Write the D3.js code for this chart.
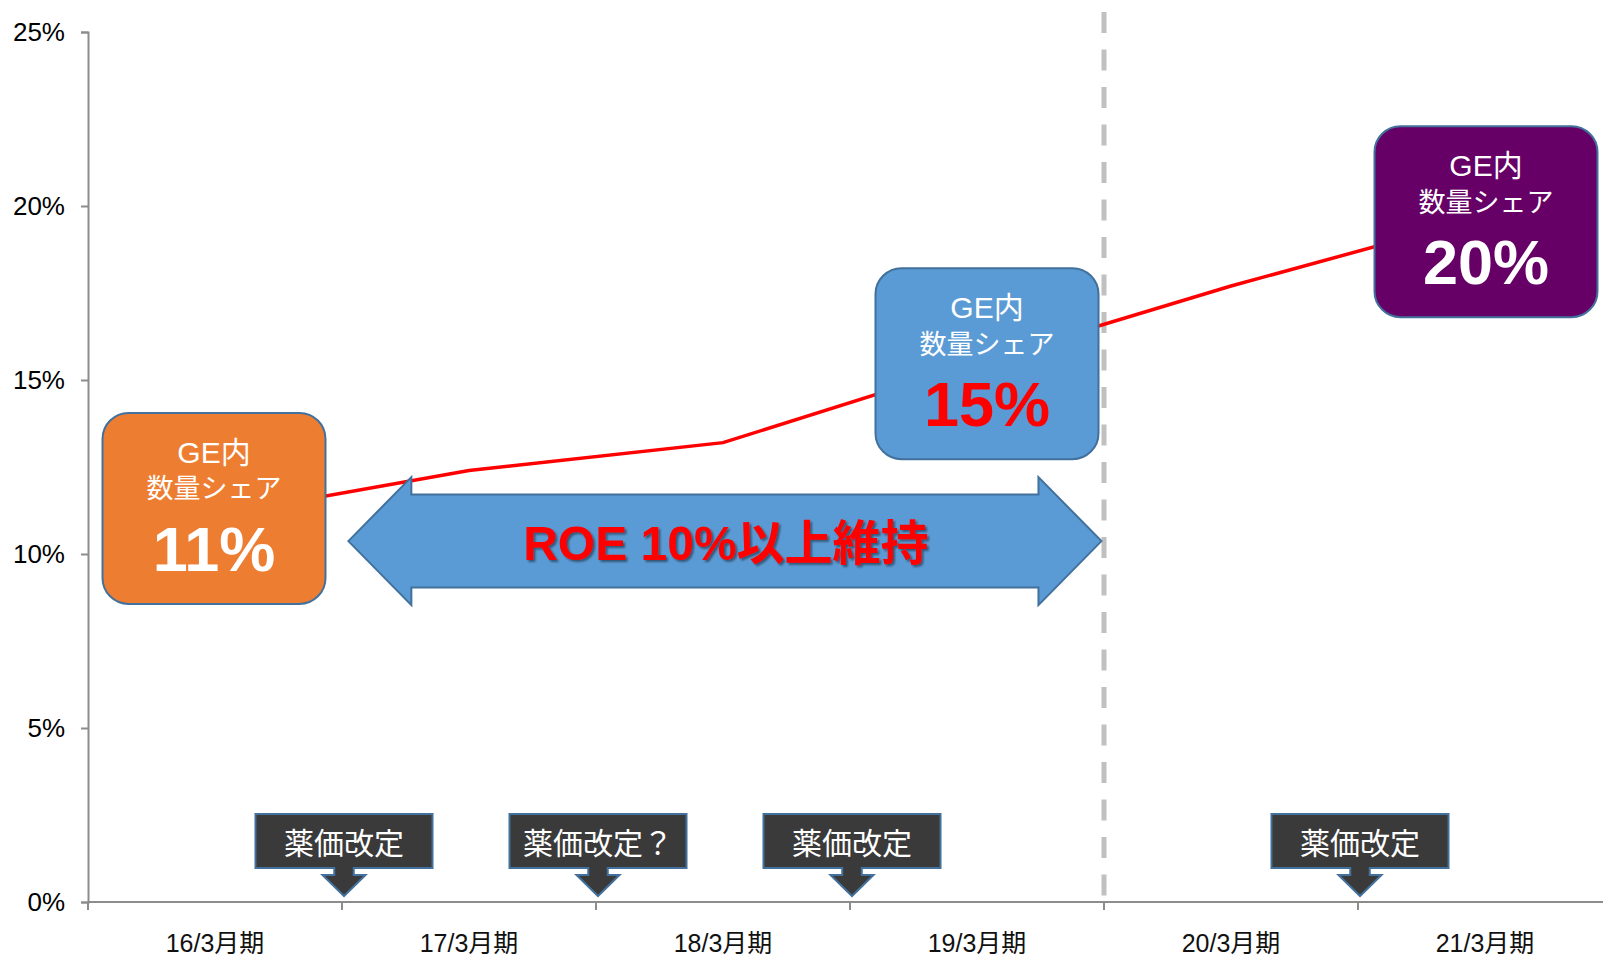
<!DOCTYPE html>
<html>
<head>
<meta charset="utf-8">
<script src="https://cdn.jsdelivr.net/npm/d3@7"></script>
<style>
  body { margin: 0; background: #fff; }
  text { font-family: "Liberation Sans", Arial, "Noto Sans CJK JP", sans-serif; }
</style>
</head>
<body>
<div id="chart"></div>
<script>
// data
const categories = ["16/3月期", "17/3月期", "18/3月期", "19/3月期", "20/3月期", "21/3月期"];
const shareValues = [0.111, 0.124, 0.132, 0.155, 0.177, 0.197];
const yTicks = [0, 0.05, 0.10, 0.15, 0.20, 0.25];

// share boxes
const boxCats = ["16/3月期", "19/3月期", "21/3月期"];
const boxLevels = [0.1131, 0.1547, 0.1955];
const boxLabels = ["11%", "15%", "20%"];
const boxTitle = ["GE内", "数量シェア"];

// price revision callouts (placed at the start of a period)
const revisionCats = ["17/3月期", "18/3月期", "19/3月期", "21/3月期"];
const revisionLabels = ["薬価改定", "薬価改定？", "薬価改定", "薬価改定"];

// ROE arrow: span in period units, level in share
const roeSpan = [1.025, 3.99];
const roeLevel = 0.1037;
const roeText = "ROE 10%以上維持";
const splitCat = "20/3月期";

// styles
const boxFills = ["#ed7d31", "#5b9bd5", "#660066"];
const boxNumColors = ["#ffffff", "#ff0000", "#ffffff"];
const boxDx = [-1, 10, 1];

const W = 1603, H = 956;
const margin = {top: 32, left: 88, bottom: 54};

const svg = d3.select("#chart").append("svg")
    .attr("width", W).attr("height", H);

const defs = svg.append("defs");
const shadow = defs.append("filter").attr("id", "shadow")
    .attr("x", "-10%").attr("y", "-30%").attr("width", "120%").attr("height", "160%");
shadow.append("feDropShadow").attr("dx", 2).attr("dy", 2).attr("stdDeviation", 1)
    .attr("flood-color", "#000").attr("flood-opacity", 0.45);

// scales
const x = d3.scaleBand().domain(categories).range([margin.left, margin.left + 254 * 6]).padding(0);
const xi = d3.scaleLinear().domain([0, categories.length]).range(x.range());
const y = d3.scaleLinear().domain([0, 0.25]).range([H - margin.bottom, margin.top]);
const cx = c => x(c) + x.bandwidth() / 2;

// Y axis
const yAxis = svg.append("g")
    .attr("transform", `translate(${margin.left},0)`)
    .call(d3.axisLeft(y).tickValues(yTicks).tickFormat(d3.format(".0%")).tickSize(7).tickPadding(16));
yAxis.select(".domain").attr("stroke", "#8c8c8c").attr("stroke-width", 2);
yAxis.selectAll(".tick line").attr("stroke", "#8c8c8c").attr("stroke-width", 2);
yAxis.selectAll(".tick text").attr("font-size", 26).attr("fill", "#000")
    .style("font-family", "'Liberation Sans', Arial, sans-serif");

// X axis: ticks on period boundaries, labels at centers
const xAxis = svg.append("g").attr("transform", `translate(0,${y(0)})`);
xAxis.append("line")
    .attr("x1", x.range()[0]).attr("x2", x.range()[1])
    .attr("stroke", "#8c8c8c").attr("stroke-width", 2);
xAxis.selectAll("line.tk")
    .data(d3.range(categories.length + 1))
    .join("line").attr("class", "tk")
    .attr("x1", d => xi(d)).attr("x2", d => xi(d))
    .attr("y1", 0).attr("y2", 8)
    .attr("stroke", "#8c8c8c").attr("stroke-width", 2);
xAxis.selectAll("text")
    .data(categories)
    .join("text")
    .attr("x", d => cx(d))
    .attr("y", 50)
    .attr("text-anchor", "middle")
    .attr("font-size", 25)
    .attr("fill", "#111")
    .text(d => d);

// dashed split line
svg.append("line")
    .attr("x1", x(splitCat)).attr("x2", x(splitCat))
    .attr("y1", 12).attr("y2", y(0))
    .attr("stroke", "#c0c0c0").attr("stroke-width", 5)
    .attr("stroke-dasharray", "21,16.5");

// share line
const line = d3.line().x((d, i) => cx(categories[i])).y(d => y(d));
svg.append("path")
    .datum(shareValues)
    .attr("d", line)
    .attr("fill", "none")
    .attr("stroke", "#ff0000")
    .attr("stroke-width", 3.5);

// ROE double arrow
const ax0 = xi(roeSpan[0]), ax1 = xi(roeSpan[1]), ay = y(roeLevel);
const head = 63, headH = 64, shaftH = 46.5;
const arrowPts = [
  [ax0, ay], [ax0 + head, ay - headH], [ax0 + head, ay - shaftH],
  [ax1 - head, ay - shaftH], [ax1 - head, ay - headH], [ax1, ay],
  [ax1 - head, ay + headH], [ax1 - head, ay + shaftH],
  [ax0 + head, ay + shaftH], [ax0 + head, ay + headH]
];
svg.append("path")
    .attr("d", "M" + arrowPts.map(p => p.join(",")).join("L") + "Z")
    .attr("fill", "#5b9bd5")
    .attr("stroke", "#41719c")
    .attr("stroke-width", 2)
    .attr("stroke-linejoin", "miter");
svg.append("text")
    .attr("x", (ax0 + ax1) / 2 + 1)
    .attr("y", ay + 19)
    .attr("text-anchor", "middle")
    .attr("font-size", 48)
    .attr("font-weight", "bold")
    .attr("fill", "#ff0000")
    .attr("filter", "url(#shadow)")
    .text(roeText);

// share boxes
const bw = 223, bh = 191;
const boxes = svg.selectAll("g.box")
    .data(boxCats)
    .join("g").attr("class", "box")
    .attr("transform", (d, i) => `translate(${cx(d) + boxDx[i]},${y(boxLevels[i])})`);
boxes.append("rect")
    .attr("x", -bw / 2).attr("y", -bh / 2)
    .attr("width", bw).attr("height", bh)
    .attr("rx", 26).attr("ry", 26)
    .attr("fill", (d, i) => boxFills[i])
    .attr("stroke", "#41719c").attr("stroke-width", 2);
boxes.append("text")
    .attr("y", -45.5)
    .attr("text-anchor", "middle")
    .attr("font-size", 30)
    .attr("fill", "#fff")
    .text(boxTitle[0]);
boxes.append("text")
    .attr("y", -10)
    .attr("text-anchor", "middle")
    .attr("font-size", 27)
    .attr("fill", "#fff")
    .style("font-family", "'Noto Sans CJK JP', sans-serif")
    .text(boxTitle[1]);
boxes.append("text")
    .attr("y", 62.5)
    .attr("text-anchor", "middle")
    .attr("font-size", 63)
    .attr("font-weight", "bold")
    .attr("fill", (d, i) => boxNumColors[i])
    .text((d, i) => boxLabels[i]);

// price revision callouts
const cw = 177, rectH = 54, shaftW = 19.5, headW = 43, neck = 7, tip = 21;
const callouts = svg.selectAll("g.callout")
    .data(revisionCats)
    .join("g").attr("class", "callout")
    .attr("transform", d => `translate(${x(d) + 2},${y(0) - 6})`);
callouts.append("path")
    .attr("d", () => {
      const top = -tip - neck - rectH, rb = -tip - neck, hb = -tip;
      const pts = [
        [-cw / 2, top], [cw / 2, top], [cw / 2, rb], [shaftW / 2, rb], [shaftW / 2, hb],
        [headW / 2, hb], [0, 0], [-headW / 2, hb], [-shaftW / 2, hb], [-shaftW / 2, rb],
        [-cw / 2, rb]
      ];
      return "M" + pts.map(p => p.join(",")).join("L") + "Z";
    })
    .attr("fill", "#3a3a3a")
    .attr("stroke", "#41719c")
    .attr("stroke-width", 2);
callouts.append("text")
    .attr("y", -tip - neck - 14)
    .attr("text-anchor", "middle")
    .attr("font-size", 30)
    .attr("fill", "#fff")
    .style("font-family", "'Noto Sans CJK JP', sans-serif")
    .text((d, i) => revisionLabels[i]);
</script>
</body>
</html>
